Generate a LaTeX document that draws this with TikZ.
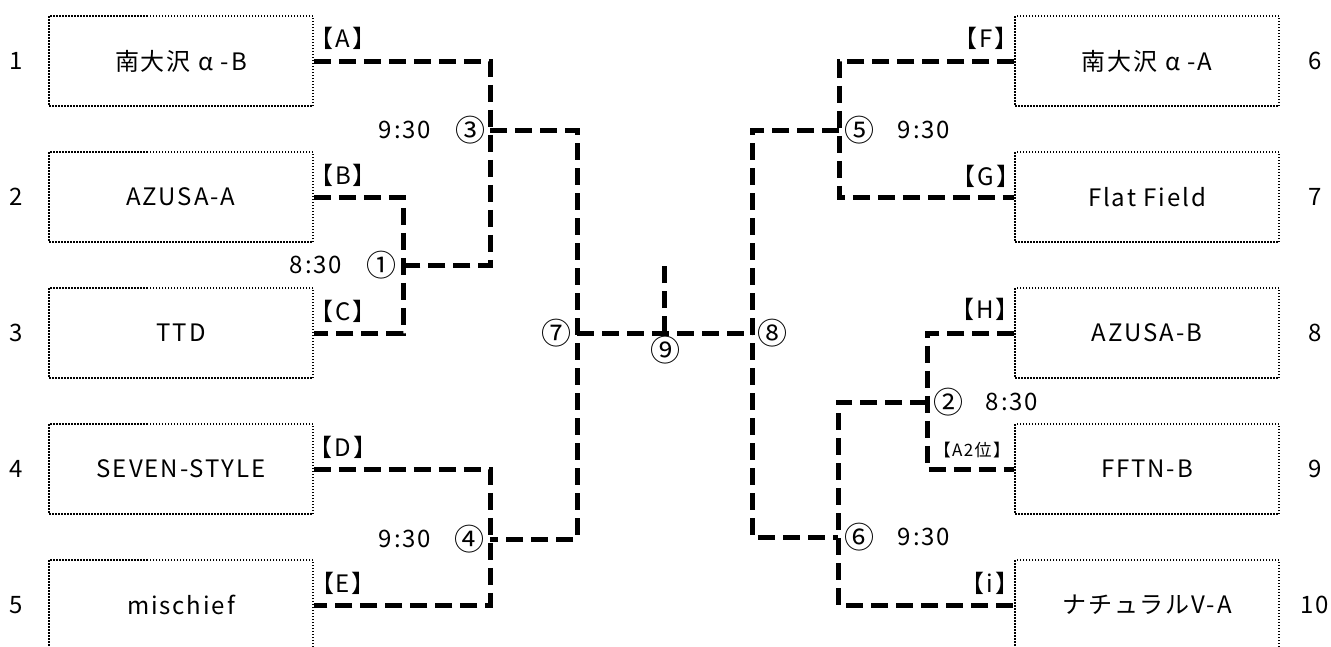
\documentclass[tikz,border=0pt]{standalone}
\usepackage{fontspec}
\setmainfont{Noto Sans CJK JP}[LetterSpace=8]
\usepackage{tikz}

\begin{document}
\begin{tikzpicture}[x=1pt,y=-1pt,
		every node/.style={inner sep=0pt,font=\fontsize{24}{28}\selectfont},
		teambox/.style={draw,line width=1.5pt,dash pattern=on 1.5pt off 1.5pt,minimum width=264pt,minimum height=90pt},
		bracketline/.style={line width=5pt,dash pattern=on 17pt off 8pt},
		circnum/.style={font=\fontsize{30}{34}\selectfont},
		smalltag/.style={font=\fontsize{17}{20}\selectfont}]
		\useasboundingbox (0,0) rectangle (1331,646);

		\begin{scope}[every node/.style={teambox,font=\fontsize{24}{28}\selectfont}]
			\node (t1) at (181,61) {南大沢\kern8pt α\kern7pt -B};
			\node (t2) at (181,197) {AZUSA-A};
			\node (t3) at (181,333) {TTD};
			\node (t4) at (181,469) {SEVEN-STYLE};
			\node (t5) at (181,605) {mischief};
			\node (t6) at (1147,61) {南大沢\kern8pt α\kern7pt -A};
			\node (t7) at (1147,197) {Flat Field};
			\node (t8) at (1147,333) {AZUSA-B};
			\node (t9) at (1147,469) {FFTN-B};
			\node (t10) at (1147,605) {ナチュラルV-A};
		\end{scope}

		\foreach \n/\y in {1/61,2/197,3/333,4/469,5/605}
			\node (n\n) at (16,\y) {\n};
		\foreach \n/\y in {6/61,7/197,8/333,9/469,10/605}
			\node (n\n) at (1315,\y) {\n};

		\coordinate (m1) at (403,265);
		\coordinate (m3) at (490,130);
		\coordinate (m4) at (490,539);
		\coordinate (m7) at (577,333);
		\coordinate (m9) at (664,333);
		\coordinate (top) at (664,265);
		\coordinate (m8) at (752,333);
		\coordinate (m5) at (839,130);
		\coordinate (m2) at (927,402);
		\coordinate (m6) at (838,537);

		\begin{scope}[bracketline]
			\draw (t2.east) -| (m1) |- (t3.east);
			\draw (t1.east) -| (m3) |- (m1);
			\draw (t4.east) -| (m4) |- (t5.east);
			\draw (m3) -| (m7) |- (m4);
			\draw (m7) -- (m8);
			\draw (m9) -- (top);
			\draw (t6.west) -| (m5) |- (t7.west);
			\draw (t8.west) -| (m2) |- (t9.west);
			\draw (m5) -| (m8) |- (m6);
			\draw (m2) -| (m6) |- (t10.west);
		\end{scope}

		\node (ta) at (343,38) {【A】};
		\node (tb) at (343,175) {【B】};
		\node (tc) at (343,311) {【C】};
		\node (td) at (343,447) {【D】};
		\node (te) at (343,583) {【E】};
		\node (tf) at (986,38) {【F】};
		\node (tg) at (986,176) {【G】};
		\node (th) at (985,309) {【H】};
		\node[smalltag] (ta2) at (972,450) {【A2位】};
		\node (ti) at (990,583) {【i】};

		\node (h3) at (405,130) {9:30};
		\node (h1) at (316,265) {8:30};
		\node (h4) at (405,539) {9:30};
		\node (h5) at (924,130) {9:30};
		\node (h2) at (1012,402) {8:30};
		\node (h6) at (924,537) {9:30};

		\begin{scope}[every node/.style={circnum}]
			\node (g1) at (381,265) {①};
			\node (g2) at (948,402) {②};
			\node (g3) at (470,130) {③};
			\node (g4) at (469,539) {④};
			\node (g5) at (859,130) {⑤};
			\node (g6) at (859,537) {⑥};
			\node (g7) at (556,333) {⑦};
			\node (g8) at (772,333) {⑧};
			\node (g9) at (665,350) {⑨};
		\end{scope}
	\end{tikzpicture}
\end{document}
